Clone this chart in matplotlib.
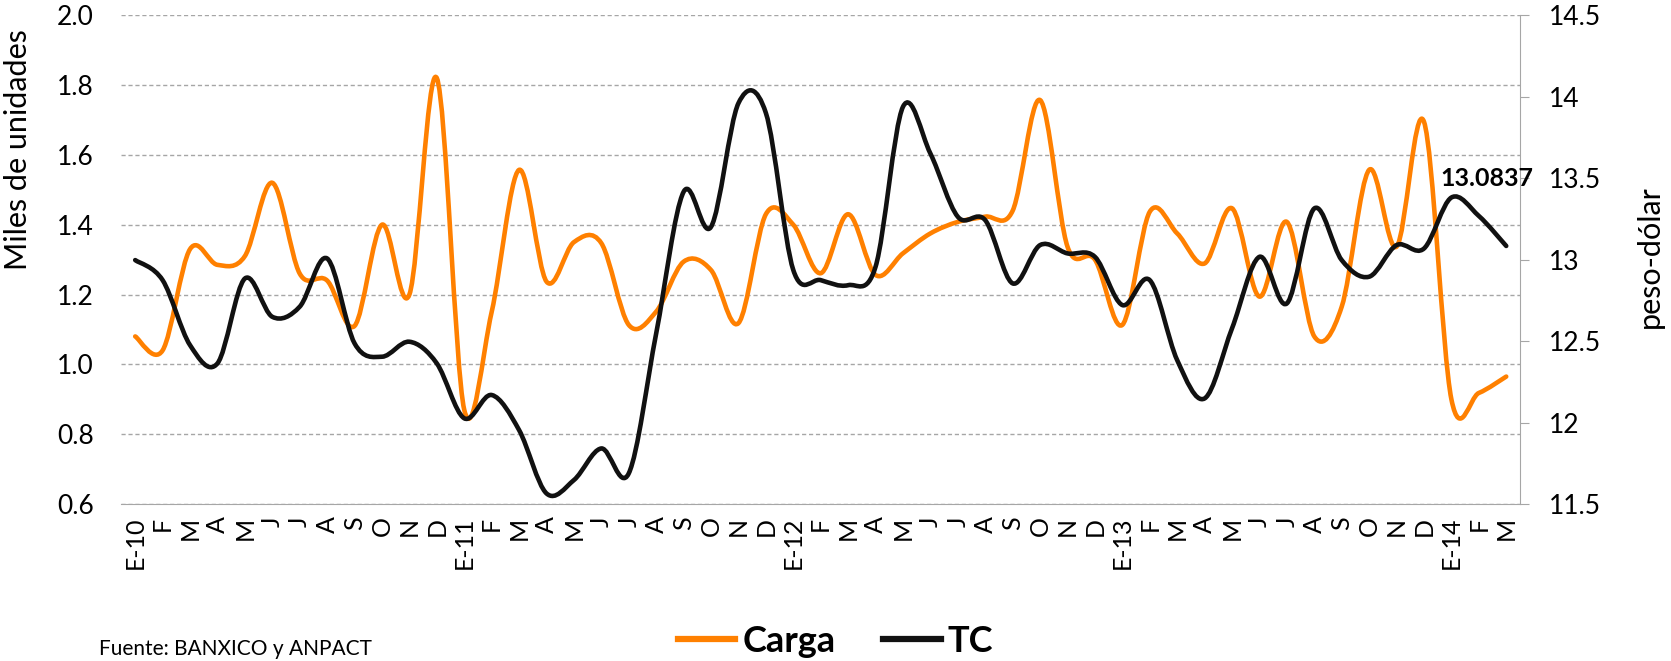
import numpy as np
import matplotlib.pyplot as plt
from matplotlib.path import Path
from matplotlib.patches import PathPatch
from matplotlib.lines import Line2D

plt.rcParams['font.family'] = ['Lato', 'DejaVu Sans']

# month labels, Jan 2010 .. Mar 2014
meses = ['E', 'F', 'M', 'A', 'M', 'J', 'J', 'A', 'S', 'O', 'N', 'D']
labels = []
for yr in ['10', '11', '12', '13']:
    labels += ['E-' + yr] + meses[1:]
labels += ['E-14', 'F', 'M']

# Carga (miles de unidades)
carga = [1.08, 1.04, 1.33, 1.285, 1.31, 1.52, 1.26, 1.24, 1.11, 1.40, 1.20, 1.82,
         0.87, 1.15, 1.557, 1.237, 1.35, 1.347, 1.113, 1.151, 1.294, 1.27, 1.118, 1.43,
         1.40, 1.261, 1.43, 1.256, 1.318, 1.375, 1.408, 1.423, 1.44, 1.757, 1.337, 1.30,
         1.113, 1.437, 1.375, 1.289, 1.447, 1.194, 1.408, 1.08, 1.165, 1.557, 1.337, 1.695,
         0.90, 0.918, 0.965]

# TC (peso-dolar)
tc = [12.997, 12.874, 12.475, 12.363, 12.884, 12.649, 12.711, 13.007, 12.486, 12.404, 12.496, 12.363,
      12.026, 12.169, 11.954, 11.565, 11.647, 11.841, 11.688, 12.547, 13.416, 13.201, 13.96, 13.9,
      12.936, 12.874, 12.843, 12.956, 13.938, 13.651, 13.263, 13.242, 12.854, 13.089, 13.038, 13.017,
      12.721, 12.874, 12.383, 12.148, 12.578, 13.017, 12.731, 13.314, 12.997, 12.895, 13.089, 13.068,
      13.381, 13.268, 13.0837]


def smooth_path(x, y):
    # excel-like smoothed line: cubic bezier through every point
    n = len(x)
    verts = [(x[0], y[0])]
    codes = [Path.MOVETO]
    for i in range(n - 1):
        xa, ya = x[max(i - 1, 0)], y[max(i - 1, 0)]
        xb, yb = x[min(i + 2, n - 1)], y[min(i + 2, n - 1)]
        c1 = (x[i] + (x[i + 1] - xa) / 6, y[i] + (y[i + 1] - ya) / 6)
        c2 = (x[i + 1] - (xb - x[i]) / 6, y[i + 1] - (yb - y[i]) / 6)
        verts += [c1, c2, (x[i + 1], y[i + 1])]
        codes += [Path.CURVE4] * 3
    return Path(verts, codes)


x = np.arange(len(labels))
orange = '#ff8000'
grey = '#a6a6a6'

fig = plt.figure(figsize=(16.71, 6.61), dpi=100)
ax = fig.add_axes([0.0727, 0.2375, 0.8369, 0.7395])
ax2 = ax.twinx()

ax.add_patch(PathPatch(smooth_path(x, carga), fill=False, edgecolor=orange, lw=3.3,
                       capstyle='round', joinstyle='round'))
ax2.add_patch(PathPatch(smooth_path(x, tc), fill=False, edgecolor='#111111', lw=3.3,
                        capstyle='round', joinstyle='round'))

ax.set_xlim(-0.5, 50.5)
ax.set_ylim(0.6, 2.0)
ax2.set_ylim(11.5, 14.5)

ax.set_yticks(np.arange(0.6, 2.01, 0.2))
ax.set_yticklabels([f'{v:.1f}' for v in np.arange(0.6, 2.01, 0.2)])
ax2.set_yticks([11.5, 12, 12.5, 13, 13.5, 14, 14.5])
ax2.set_yticklabels(['11.5', '12', '12.5', '13', '13.5', '14', '14.5'])

ax.set_xticks(x)
ax.set_xticklabels(labels, rotation=90)

ax.grid(axis='y', color=grey, linestyle=(0, (3, 2)), lw=1)
ax.set_axisbelow(True)

for s in ['left', 'top', 'right']:
    ax.spines[s].set_visible(False)
    if s != 'right':
        ax2.spines[s].set_visible(False)
ax2.spines['bottom'].set_visible(False)
ax.spines['bottom'].set_color(grey)
ax2.spines['right'].set_color(grey)

ax.tick_params(axis='y', length=0, labelsize=19, pad=20)
ax.tick_params(axis='x', length=0, labelsize=18, pad=9)
ax2.tick_params(axis='y', length=6.5, color=grey, labelsize=19, pad=14)

ax.set_ylabel('Miles de unidades', fontsize=22)
ax.yaxis.set_label_coords(-0.064, 0.726)
ax2.set_ylabel('peso-dólar', fontsize=22)
ax2.yaxis.set_label_coords(1.083, 0.507)

ax2.text(47.6, 13.5, '13.0837', fontsize=18, fontweight='bold', ha='left', va='center')

handles = [Line2D([], [], color=orange, lw=4.5), Line2D([], [], color='#111111', lw=4.5)]
fig.legend(handles, ['Carga', 'TC'], loc='center', bbox_to_anchor=(0.5, 0.03), ncol=2,
           frameon=False, prop={'size': 26, 'weight': 'bold'}, handlelength=1.6,
           handletextpad=0.2, columnspacing=1.3)

fig.text(0.059, 0.003, 'Fuente: BANXICO y ANPACT', fontsize=15, va='bottom')

fig.savefig('out.png', dpi=100)
